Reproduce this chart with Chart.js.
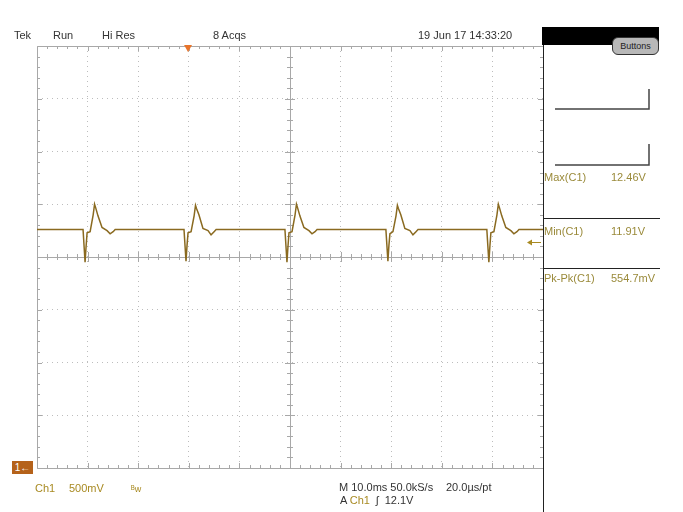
<!DOCTYPE html>
<html>
<head>
<meta charset="utf-8">
<script src="https://cdn.jsdelivr.net/npm/chart.js@4/dist/chart.umd.min.js"></script>
<style>
body { margin: 0; background: #fff; }
#wrap { position: relative; width: 683px; height: 512px; overflow: hidden; font-family: "Liberation Sans", Arial, sans-serif; }
#scope { position: absolute; left: 0; top: 0; }
.t { position: absolute; font-size: 11px; line-height: 13px; color: #333; white-space: nowrap; }
.y { color: #a88a22; }
.ol { color: #9a8a3a; }
#bar { position: absolute; left: 542px; top: 27px; width: 117px; height: 18px; background: #000; }
#btn { position: absolute; left: 612px; top: 37px; width: 45px; height: 16px; background: #b8b8b8; border: 1px solid #333; border-radius: 6px; font-size: 9px; line-height: 16px; text-align: center; color: #222; }
#mark1 { position: absolute; left: 12px; top: 461px; width: 21px; height: 13px; background: #b5621a; color: #fff; font-size: 10px; line-height: 13px; text-align: center; }
</style>
</head>
<body>
<div id="wrap">
<canvas id="scope" width="683" height="512"></canvas>
<div id="bar"></div>
<div id="btn">Buttons</div>
<div class="t" style="left:14px;top:29px">Tek</div>
<div class="t" style="left:53px;top:29px">Run</div>
<div class="t" style="left:102px;top:29px">Hi Res</div>
<div class="t" style="left:213px;top:29px">8 Acqs</div>
<div class="t" style="left:418px;top:29px">19 Jun 17 14:33:20</div>
<div class="t ol" style="left:544px;top:171px">Max(C1)</div>
<div class="t ol" style="left:611px;top:171px">12.46V</div>
<div class="t ol" style="left:544px;top:225px">Min(C1)</div>
<div class="t ol" style="left:611px;top:225px">11.91V</div>
<div class="t ol" style="left:544px;top:272px">Pk-Pk(C1)</div>
<div class="t ol" style="left:611px;top:272px">554.7mV</div>
<div id="mark1">1&#8592;</div>
<div class="t y" style="left:35px;top:482px">Ch1</div>
<div class="t y" style="left:69px;top:482px">500mV</div>
<div class="t y" style="left:131px;top:483px;font-size:9px">ᴮw</div>
<div class="t" style="left:339px;top:481px">M 10.0ms 50.0kS/s</div>
<div class="t" style="left:446px;top:481px">20.0µs/pt</div>
<div class="t" style="left:340px;top:494px">A <span class="y">Ch1</span> &nbsp;ʃ &nbsp;12.1V</div>
</div>
<script>
// horizontal: 20 us/div, 10 divisions; vertical: 500 mV/div, 8 divisions
const xTicks = [0, 20, 40, 60, 80, 100, 120, 140, 160, 180, 200];
const yTicks = [9.96, 10.46, 10.96, 11.46, 11.96, 12.46, 12.96, 13.46, 13.96];
const triggerLevel = 12.1;
const triggerPos = 59.7;

// Ch1 trace (time in us, volts)
const timeUs = [
  0, 18.2, 19.0, 19.4, 19.8, 21.0, 22.2, 22.75, 23.15, 24.1, 25.7, 27.7, 28.9, 30.1, 30.9,
  58.1, 58.9, 59.3, 59.7, 60.9, 62.1, 62.65, 63.05, 64.0, 65.6, 67.6, 68.8, 70.0, 70.8,
  98.0, 98.8, 99.2, 99.6, 100.8, 102.0, 102.55, 102.95, 103.9, 105.5, 107.5, 108.7, 109.9, 110.7,
  137.9, 138.7, 139.1, 139.5, 140.7, 141.9, 142.45, 142.85, 143.8, 145.4, 147.4, 148.6, 149.8, 150.6,
  177.8, 178.6, 179.0, 179.4, 180.6, 181.8, 182.35, 182.75, 183.7, 185.3, 187.3, 188.5, 189.7, 190.5, 200
];
const ch1Volts = [
  12.22, 12.22, 11.91, 12.06, 12.19, 12.20, 12.36, 12.46, 12.43, 12.35, 12.24, 12.21, 12.18, 12.20, 12.22,
  12.22, 11.92, 12.07, 12.19, 12.20, 12.35, 12.45, 12.42, 12.36, 12.23, 12.21, 12.17, 12.20, 12.22,
  12.22, 11.91, 12.06, 12.19, 12.20, 12.36, 12.46, 12.43, 12.35, 12.24, 12.21, 12.18, 12.20, 12.22,
  12.22, 11.92, 12.07, 12.18, 12.20, 12.35, 12.45, 12.42, 12.36, 12.23, 12.21, 12.17, 12.20, 12.22,
  12.22, 11.91, 12.06, 12.19, 12.20, 12.36, 12.46, 12.43, 12.35, 12.24, 12.21, 12.18, 12.20, 12.22, 12.22
];

const points = timeUs.map((t, i) => ({ x: t, y: ch1Volts[i] }));

// graticule: center cross with minor ticks, edge ticks, right panel
const graticule = {
  id: 'graticule',
  beforeDatasetsDraw(chart) {
    const ctx = chart.ctx;
    const a = chart.chartArea;
    const xs = chart.scales.x, ys = chart.scales.y;
    const cx = xs.getPixelForValue(100), cy = ys.getPixelForValue(11.96);
    ctx.save();
    ctx.strokeStyle = '#a8a8a8';
    ctx.lineWidth = 1;
    ctx.beginPath();
    ctx.moveTo(a.left, cy + 0.5); ctx.lineTo(a.right, cy + 0.5);
    ctx.moveTo(cx + 0.5, a.top); ctx.lineTo(cx + 0.5, a.bottom);
    ctx.rect(a.left + 0.5, a.top + 0.5, a.right - a.left, a.bottom - a.top);
    for (let t = 4; t < 200; t += 4) {
      const px = Math.round(xs.getPixelForValue(t)) + 0.5;
      const len = (t % 20 === 0) ? 5 : 3;
      ctx.moveTo(px, cy - len); ctx.lineTo(px, cy + len);
      ctx.moveTo(px, a.top); ctx.lineTo(px, a.top + len);
      ctx.moveTo(px, a.bottom); ctx.lineTo(px, a.bottom - len);
    }
    for (let k = 1; k < 40; k++) {
      const py = Math.round(ys.getPixelForValue(9.96 + k * 0.1)) + 0.5;
      const len = (k % 5 === 0) ? 5 : 3;
      ctx.moveTo(cx - len, py); ctx.lineTo(cx + len, py);
      ctx.moveTo(a.left, py); ctx.lineTo(a.left + len, py);
      ctx.moveTo(a.right, py); ctx.lineTo(a.right - len, py);
    }
    ctx.stroke();
    ctx.restore();
  },
  afterDraw(chart) {
    const ctx = chart.ctx;
    const a = chart.chartArea;
    const xs = chart.scales.x, ys = chart.scales.y;
    ctx.save();
    // trigger position marker
    const tx = xs.getPixelForValue(triggerPos);
    ctx.fillStyle = '#e8742a';
    ctx.beginPath();
    ctx.moveTo(tx - 4, a.top - 1); ctx.lineTo(tx + 4, a.top - 1); ctx.lineTo(tx, a.top + 6);
    ctx.closePath(); ctx.fill();
    // trigger level arrow
    const ty = Math.round(ys.getPixelForValue(triggerLevel)) + 0.5;
    ctx.strokeStyle = '#a88a22'; ctx.fillStyle = '#a88a22';
    ctx.beginPath(); ctx.moveTo(a.right - 14, ty); ctx.lineTo(a.right - 2, ty); ctx.stroke();
    ctx.beginPath(); ctx.moveTo(a.right - 16, ty); ctx.lineTo(a.right - 11, ty - 3); ctx.lineTo(a.right - 11, ty + 3); ctx.closePath(); ctx.fill();
    // right panel
    ctx.strokeStyle = '#222'; ctx.lineWidth = 1;
    ctx.beginPath();
    ctx.moveTo(a.right + 0.5, 27); ctx.lineTo(a.right + 0.5, 512);
    ctx.moveTo(a.right, 218.5); ctx.lineTo(660, 218.5);
    ctx.moveTo(a.right, 268.5); ctx.lineTo(660, 268.5);
    ctx.stroke();
    ctx.strokeStyle = '#444'; ctx.lineWidth = 1.5;
    ctx.beginPath();
    ctx.moveTo(555, 109); ctx.lineTo(649, 109); ctx.lineTo(649, 89);
    ctx.moveTo(555, 165); ctx.lineTo(649, 165); ctx.lineTo(649, 144);
    ctx.stroke();
    ctx.restore();
  }
};

new Chart(document.getElementById('scope'), {
  type: 'line',
  data: {
    datasets: [{
      label: 'Ch1',
      data: points,
      borderColor: '#8a6a20',
      borderWidth: 1.5,
      pointRadius: 0,
      tension: 0
    }]
  },
  options: {
    responsive: false,
    animation: false,
    layout: { padding: { left: 37, top: 46, right: 140, bottom: 44 } },
    plugins: { legend: { display: false }, tooltip: { enabled: false } },
    scales: {
      x: {
        type: 'linear', min: 0, max: 200,
        afterBuildTicks: s => { s.ticks = xTicks.map(v => ({ value: v })); },
        afterFit: s => { s.height = 0; },
        ticks: { display: false },
        border: { display: false, dash: [1, 4] },
        grid: { color: '#bdbdbd', drawTicks: false }
      },
      y: {
        type: 'linear', min: 9.96, max: 13.96,
        afterBuildTicks: s => { s.ticks = yTicks.map(v => ({ value: v })); },
        afterFit: s => { s.width = 0; },
        ticks: { display: false },
        border: { display: false, dash: [1, 4] },
        grid: { color: '#bdbdbd', drawTicks: false }
      }
    }
  },
  plugins: [graticule]
});
</script>
</body>
</html>
